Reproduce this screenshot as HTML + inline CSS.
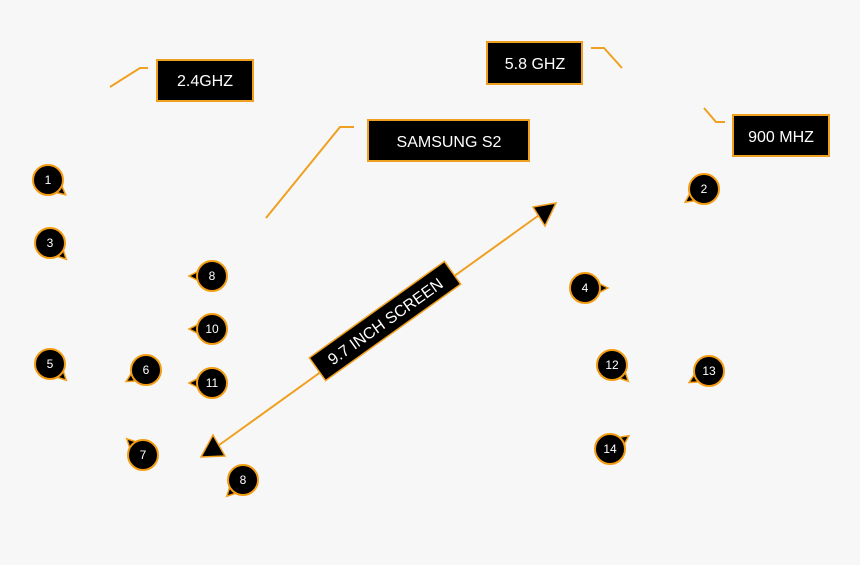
<!DOCTYPE html>
<html><head><meta charset="utf-8"><style>
html,body{margin:0;padding:0;background:#f7f7f7;}
svg{display:block}
text{font-family:"Liberation Sans",sans-serif;fill:#fff}
</style></head><body>
<svg width="860" height="565" viewBox="0 0 860 565" xmlns="http://www.w3.org/2000/svg">
<defs>
<g id="ptr"><polygon points="9,-7 23,0 9,7" fill="#000" stroke="#f39c12" stroke-width="1.5"/></g>
</defs>
<rect width="860" height="565" fill="#f7f7f7"/>
<g stroke="#f0a020" stroke-width="2" fill="none">
<polyline points="110,87 140,68 148,68"/>
<polyline points="591,48 604,48 622,68"/>
<polyline points="266,218 340,127 354,127"/>
<polyline points="704,108 716,122 725,122"/>
<line x1="215" y1="448" x2="542" y2="213"/>
</g>
<polygon points="533,207 556,203 545,226" fill="#000" stroke="#f0a020" stroke-width="1.5"/>
<polygon points="201,457 213,435 225,456" fill="#000" stroke="#f0a020" stroke-width="1.5"/>
<g fill="#000" stroke="#f0a020" stroke-width="2">
<rect x="157" y="60" width="96" height="41"/>
<rect x="487" y="42" width="95" height="42"/>
<rect x="368" y="120" width="161" height="41"/>
<rect x="733" y="115" width="96" height="41"/>
</g>
<g font-size="16" text-anchor="middle">
<text x="205" y="86">2.4GHZ</text>
<text x="535" y="69">5.8 GHZ</text>
<text x="449" y="147">SAMSUNG S2</text>
<text x="781" y="142">900 MHZ</text>
</g>
<g transform="translate(385,321) rotate(-35.5)">
<rect x="-83" y="-14" width="166" height="28" fill="#000" stroke="#f0a020" stroke-width="1.5"/>
<text x="0" y="6" font-size="16" text-anchor="middle">9.7 INCH SCREEN</text>
</g>
<g font-size="12" text-anchor="middle">
<g transform="translate(48,180)"><use href="#ptr" transform="rotate(40)"/><circle r="15" fill="#000" stroke="#f39c12" stroke-width="2"/><text y="4">1</text></g>
<g transform="translate(50,243)"><use href="#ptr" transform="rotate(45)"/><circle r="15" fill="#000" stroke="#f39c12" stroke-width="2"/><text y="4">3</text></g>
<g transform="translate(212,276)"><use href="#ptr" transform="rotate(180)"/><circle r="15" fill="#000" stroke="#f39c12" stroke-width="2"/><text y="4">8</text></g>
<g transform="translate(212,329)"><use href="#ptr" transform="rotate(180)"/><circle r="15" fill="#000" stroke="#f39c12" stroke-width="2"/><text y="4">10</text></g>
<g transform="translate(50,364)"><use href="#ptr" transform="rotate(45)"/><circle r="15" fill="#000" stroke="#f39c12" stroke-width="2"/><text y="4">5</text></g>
<g transform="translate(146,370)"><use href="#ptr" transform="rotate(150)"/><circle r="15" fill="#000" stroke="#f39c12" stroke-width="2"/><text y="4">6</text></g>
<g transform="translate(212,383)"><use href="#ptr" transform="rotate(180)"/><circle r="15" fill="#000" stroke="#f39c12" stroke-width="2"/><text y="4">11</text></g>
<g transform="translate(143,455)"><use href="#ptr" transform="rotate(225)"/><circle r="15" fill="#000" stroke="#f39c12" stroke-width="2"/><text y="4">7</text></g>
<g transform="translate(243,480)"><use href="#ptr" transform="rotate(135)"/><circle r="15" fill="#000" stroke="#f39c12" stroke-width="2"/><text y="4">8</text></g>
<g transform="translate(704,189)"><use href="#ptr" transform="rotate(145)"/><circle r="15" fill="#000" stroke="#f39c12" stroke-width="2"/><text y="4">2</text></g>
<g transform="translate(585,288)"><use href="#ptr" transform="rotate(0)"/><circle r="15" fill="#000" stroke="#f39c12" stroke-width="2"/><text y="4">4</text></g>
<g transform="translate(612,365)"><use href="#ptr" transform="rotate(45)"/><circle r="15" fill="#000" stroke="#f39c12" stroke-width="2"/><text y="4">12</text></g>
<g transform="translate(709,371)"><use href="#ptr" transform="rotate(150)"/><circle r="15" fill="#000" stroke="#f39c12" stroke-width="2"/><text y="4">13</text></g>
<g transform="translate(610,449)"><use href="#ptr" transform="rotate(-35)"/><circle r="15" fill="#000" stroke="#f39c12" stroke-width="2"/><text y="4">14</text></g>
</g>
</svg>
</body></html>
